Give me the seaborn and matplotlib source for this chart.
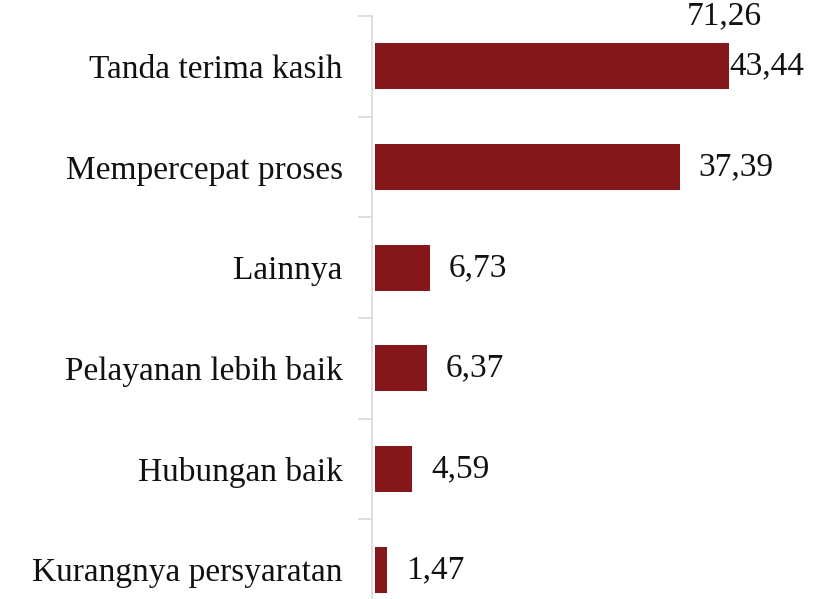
import matplotlib
matplotlib.use("Agg")
import matplotlib.pyplot as plt
import seaborn as sns
import pandas as pd
from matplotlib.ticker import FixedLocator

categories = ["Tanda terima kasih", "Mempercepat proses", "Lainnya",
              "Pelayanan lebih baik", "Hubungan baik", "Kurangnya persyaratan"]
values = [43.44, 37.39, 6.73, 6.37, 4.59, 1.47]
value_labels = ["43,44", "37,39", "6,73", "6,37", "4,59", "1,47"]
extra_label = "71,26"

sns.set_theme(style="white")
plt.rcParams['font.family'] = ['Liberation Serif', 'DejaVu Serif']

df = pd.DataFrame({"cat": categories, "val": values})

fig = plt.figure(figsize=(8.19, 5.99), dpi=100)
ax = fig.add_axes([372/819, 1 - 620/599, (729 - 372)/819, (620 - 16)/599])
sns.barplot(data=df, x="val", y="cat", orient="h", color="#85171b",
            saturation=1, width=0.46, ax=ax, edgecolor="none")
ax.set_xlim(-0.35, 43.44)
ax.set_ylim(5.5, -0.5)
ax.set_xlabel("")
ax.set_ylabel("")
ax.set_xticks([])
for s in ["top", "right", "bottom"]:
    ax.spines[s].set_visible(False)
ax.spines["left"].set_color("#d9d9d9")
ax.spines["left"].set_linewidth(1.2)
ax.tick_params(axis="y", which="major", length=0, pad=21, labelsize=24, labelcolor="#111111")
ax.yaxis.set_minor_locator(FixedLocator([i - 0.5 for i in range(7)]))
ax.tick_params(axis="y", which="minor", length=10, width=1.2, color="#d9d9d9", left=True)

for i, (v, lab) in enumerate(zip(values, value_labels)):
    if i == 0:
        ax.text(v, i, lab, ha="left", va="center", fontsize=24, color="#111111", clip_on=False)
    else:
        ax.text(v + 19/8.14, i, lab, ha="left", va="center", fontsize=24, color="#111111")
fig.text(724/819, 1 - 16/599, extra_label, ha="center", va="center", fontsize=24, color="#111111")

fig.savefig("out.png", dpi=100)
